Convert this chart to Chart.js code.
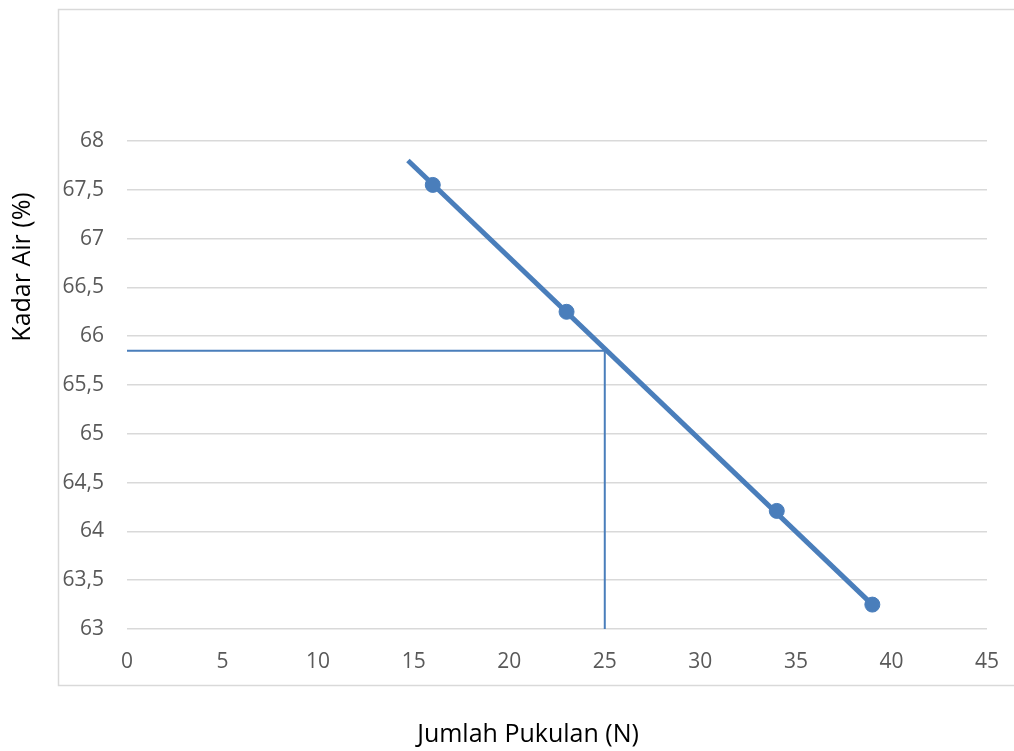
<!DOCTYPE html>
<html>
<head>
<meta charset="utf-8">
<script src="https://cdn.jsdelivr.net/npm/chart.js@4/dist/chart.umd.min.js"></script>
<style>
    html, body { margin: 0; padding: 0; background: #ffffff; }
    #wrap { position: relative; width: 1014px; height: 751px; }
</style>
</head>
<body>
<div id="wrap"><canvas id="chartKadarAir"></canvas></div>
<script>
// Data hasil uji batas cair (Casagrande)
const jumlahPukulan = [16, 23, 34, 39];
const kadarAir = [67.55, 66.25, 64.21, 63.25];

// Garis tren (ujung awal dan akhir)
const trenX = [14.7, 39];
const trenY = [67.8, 63.25];

// Garis bantu pada N = 25
const bantuX = [0, 25, 25];
const bantuY = [65.85, 65.85, 63];

const xTicks = [0, 5, 10, 15, 20, 25, 30, 35, 40, 45];
const yTicks = [63, 63.5, 64, 64.5, 65, 65.5, 66, 66.5, 67, 67.5, 68];

const judulX = 'Jumlah Pukulan (N)';
const judulY = 'Kadar Air (%)';

const biru = '#4a7ebb';
const toXY = (xs, ys) => xs.map((x, i) => ({ x: x, y: ys[i] }));
const koma = v => String(v).replace('.', ',');

// Bingkai dan judul sumbu digambar manual (posisinya tidak simetris)
const bingkaiPlugin = {
    id: 'bingkai',
    afterDraw(chart) {
        const ctx = chart.ctx;
        ctx.save();
        ctx.strokeStyle = '#d9d9d9';
        ctx.lineWidth = 1.5;
        ctx.strokeRect(58.5, 9.5, 960, 676);

        ctx.fillStyle = '#000000';
        ctx.font = "25px 'Open Sans', sans-serif";
        ctx.textAlign = 'center';
        ctx.textBaseline = 'middle';
        ctx.fillText(judulX, 528, 735);

        ctx.translate(23, 267);
        ctx.rotate(-Math.PI / 2);
        ctx.fillText(judulY, 0, 0);
        ctx.restore();
    }
};

const ctx = document.getElementById('chartKadarAir').getContext('2d');
new Chart(ctx, {
    type: 'scatter',
    data: {
        datasets: [
            {
                label: 'bantu',
                data: toXY(bantuX, bantuY),
                showLine: true,
                borderColor: biru,
                borderWidth: 2,
                pointRadius: 0,
                order: 3
            },
            {
                label: 'tren',
                data: toXY(trenX, trenY),
                showLine: true,
                borderColor: biru,
                borderWidth: 5,
                pointRadius: 0,
                order: 2
            },
            {
                label: 'data',
                data: toXY(jumlahPukulan, kadarAir),
                backgroundColor: biru,
                borderColor: biru,
                pointRadius: 7.5,
                order: 1
            }
        ]
    },
    options: {
        responsive: true,
        maintainAspectRatio: false,
        animation: false,
        layout: { padding: { top: 141, right: 27, left: 0, bottom: 0 } },
        plugins: {
            legend: { display: false },
            tooltip: { enabled: false }
        },
        scales: {
            x: {
                type: 'linear',
                min: 0,
                max: 45,
                afterBuildTicks: s => { s.ticks = xTicks.map(v => ({ value: v })); },
                afterFit: s => { s.height = 122; s.paddingLeft = 0; s.paddingRight = 0; },
                grid: { display: false, drawTicks: false },
                border: { display: false },
                ticks: {
                    padding: 20,
                    color: '#595959',
                    font: { family: "'Open Sans', sans-serif", size: 21 },
                    callback: v => koma(v)
                }
            },
            y: {
                type: 'linear',
                min: 63,
                max: 68,
                afterBuildTicks: s => { s.ticks = yTicks.map(v => ({ value: v })); },
                afterFit: s => { s.width = 127; s.paddingTop = 0; s.paddingBottom = 0; },
                grid: { color: '#d9d9d9', lineWidth: 1.5, drawTicks: false },
                border: { display: false },
                ticks: {
                    padding: 23,
                    color: '#595959',
                    font: { family: "'Open Sans', sans-serif", size: 21 },
                    callback: v => koma(v)
                }
            }
        }
    },
    plugins: [bingkaiPlugin]
});
</script>
</body>
</html>
